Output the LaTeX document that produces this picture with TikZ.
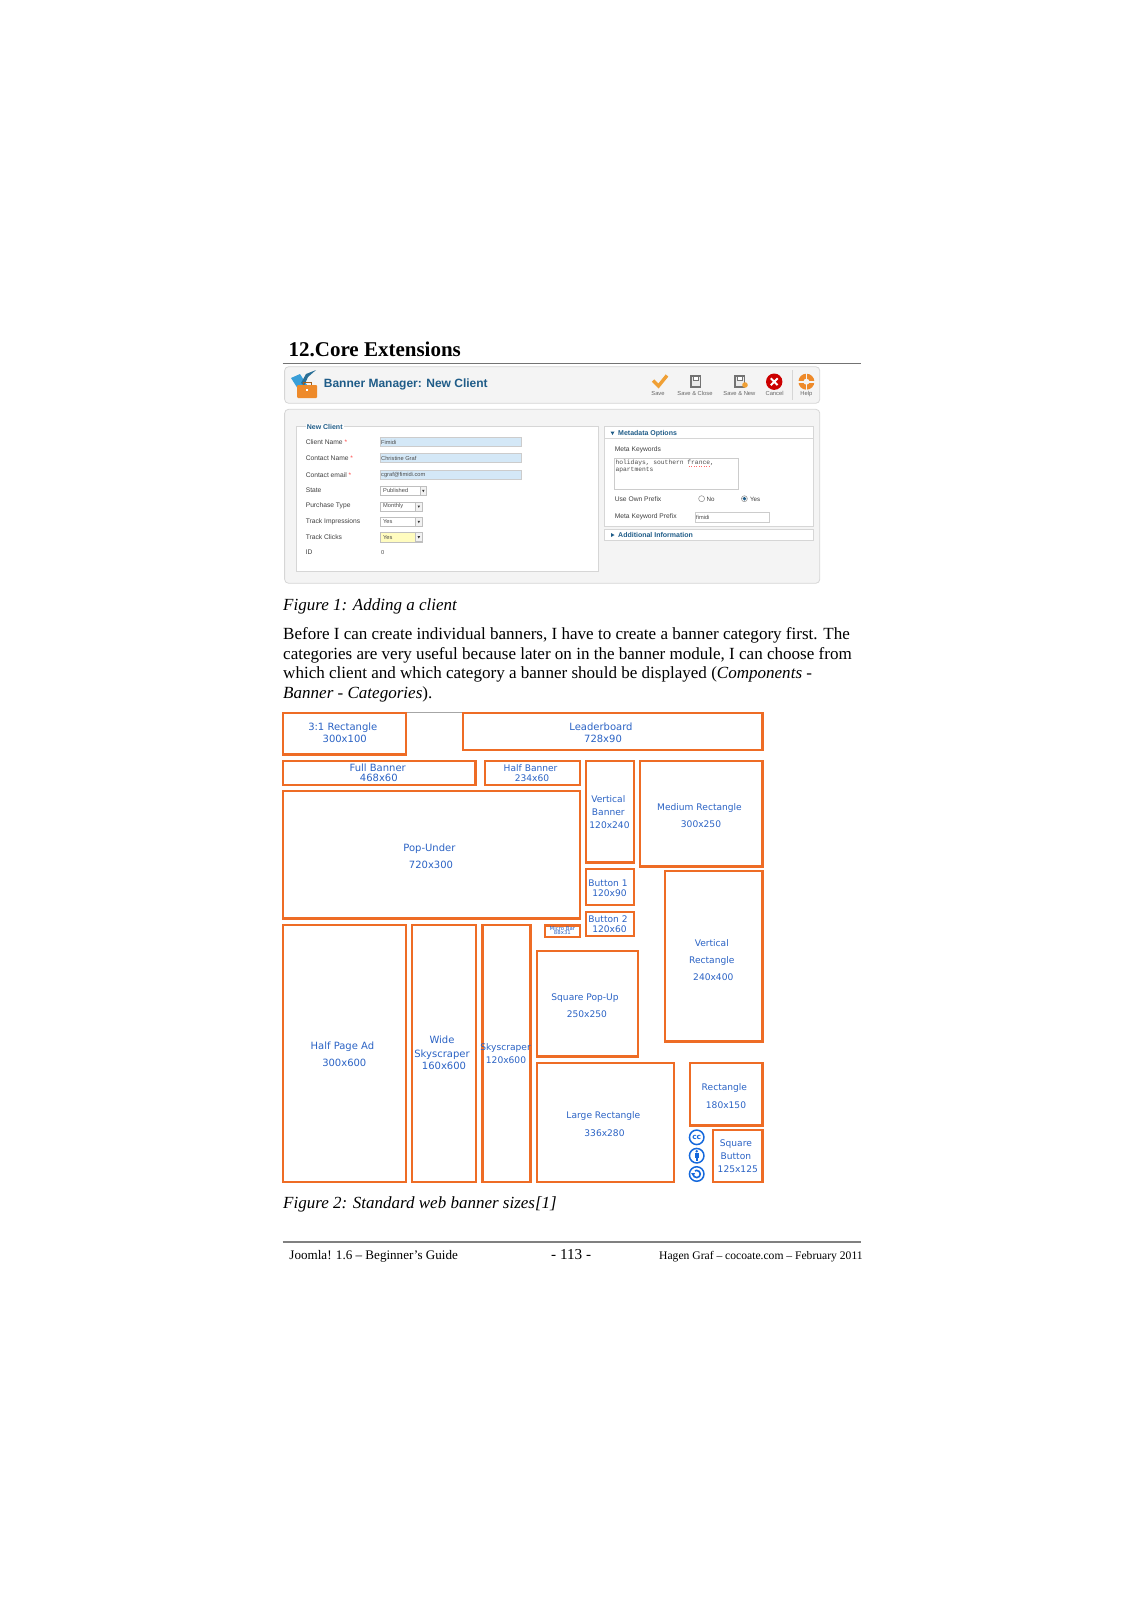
\documentclass[tikz,border=0pt]{standalone}
\usepackage{fontspec}
\setmainfont{Liberation Serif}
\newfontfamily\uifont{Liberation Sans}
\newfontfamily\adfont{DejaVu Sans}
\newfontfamily\codefont{Liberation Mono}
\definecolor{adorange}{HTML}{EE6C25}
\definecolor{adblue}{HTML}{2A62C4}
\definecolor{headblue}{HTML}{1F5C88}
\definecolor{ccblue}{HTML}{1468DC}
\definecolor{panelgray}{HTML}{F4F4F4}
\definecolor{edgegray}{HTML}{D6D6D6}
\definecolor{inputblue}{HTML}{D4E8F7}
\definecolor{iconorange}{HTML}{F0A035}
\definecolor{caseorange}{HTML}{EE8A2A}
\definecolor{caseblue}{HTML}{3A9FD8}
\tikzset{
    adbox/.style={draw=adorange, line width=2.4pt},
    adtext/.style={font=\adfont\fontsize{10}{12}\selectfont, text=adblue, inner sep=0pt, text height=7.5pt, text depth=0pt},
    adsmall/.style={adtext, font=\adfont\fontsize{9.1}{11}\selectfont},
    booktext/.style={anchor=base west, inner sep=0pt, align=left, font=\fontsize{17.05}{19.65}\selectfont},
    uitext/.style={anchor=west, inner sep=0pt, font=\uifont\fontsize{6.7}{8}\selectfont, text=black!75},
    fieldtext/.style={anchor=west, inner sep=0pt, font=\uifont\fontsize{5.7}{6}\selectfont, text=black!70},
    toolbartext/.style={inner sep=0pt, font=\uifont\fontsize{5.8}{7}\selectfont, text=black!60},
    panelhead/.style={anchor=west, inner sep=0pt, font=\uifont\bfseries\fontsize{7}{8}\selectfont, text=headblue},
    inputbox/.style={draw=black!20, fill=inputblue, line width=.6pt},
    selectbox/.style={draw=black!25, fill=white, line width=.6pt},
    panelbox/.style={draw=edgegray, fill=white, line width=.8pt},
    ccicon/.style={circle, draw=ccblue, line width=1.5pt, minimum size=14.5pt, inner sep=0pt, text=ccblue}
}
\begin{document}
\begin{tikzpicture}[x=1pt,y=-1pt]
    \useasboundingbox (0,0) rectangle (1131,1600);

    % page head
    \node[booktext, font=\bfseries\fontsize{21}{23}\selectfont] (title) at (288.4,356) {12.Core Extensions};
    \draw[black!55, line width=1.2pt] (282.7,363.5) -- (861.2,363.5);

    % screenshot
    \draw[edgegray, fill=panelgray, rounded corners=4pt, line width=.8pt] (284.6,366.7) rectangle (819.8,403.3);
    \draw[edgegray, fill=panelgray, rounded corners=4pt, line width=.8pt] (284.6,409.3) rectangle (819.8,583.3);
    \node[anchor=west, inner sep=0pt, font=\uifont\bfseries\fontsize{12}{14}\selectfont, text=headblue] (manager) at (323.7,384.8) {Banner Manager: New Client};

    % briefcase
    \fill[caseblue] (291,378) -- (300,374) -- (307,385) -- (298,389) -- cycle;
    \fill[caseblue!70!black] (301,383) -- (306,374) -- (316,370) -- (308,377) -- (304,386) -- cycle;
    \fill[caseorange, rounded corners=1pt] (297,385) rectangle (317,398);
    \draw[caseorange!70!black, line width=.8pt] (303,385) -- (303,382.5) -- (311,382.5) -- (311,385);
    \fill[white] (306.2,389) rectangle (307.8,391);

    % toolbar icons
    \draw[iconorange, line width=3.4pt] (653,380.5) -- (658.5,386) -- (667,375.5);
    \draw[black!55, fill=black!8, line width=1.2pt] (691,376) rectangle (700.5,387);
    \draw[black!55, fill=white, line width=.8pt] (693,376) rectangle (698.5,380);
    \draw[black!55, fill=black!8, line width=1.2pt] (735,376) rectangle (744.5,387);
    \draw[black!55, fill=white, line width=.8pt] (737,376) rectangle (742.5,380);
    \fill[iconorange] (745,385) circle (2.8);
    \fill[red!80!black] (774.2,381.7) circle (8.2);
    \draw[white, line width=2pt] (770.8,378.3) -- (777.6,385.1) (770.8,385.1) -- (777.6,378.3);
    \fill[caseorange] (806.4,381.7) circle (8);
    \fill[panelgray] (806.4,381.7) circle (3);
    \draw[panelgray, line width=1.6pt] (798,381.7) -- (815,381.7) (806.4,373) -- (806.4,390);
    \draw[edgegray, line width=.8pt] (791.9,370) -- (791.9,400);
    \node[toolbartext] (save) at (658,393.7) {Save};
    \node[toolbartext] (saveclose) at (695,393.7) {Save \& Close};
    \node[toolbartext] (savenew) at (739.4,393.7) {Save \& New};
    \node[toolbartext] (cancel) at (774.6,393.7) {Cancel};
    \node[toolbartext] (help) at (806.4,393.7) {Help};

    % client form
    \draw[panelbox] (296,426.7) rectangle (598.8,571.3);
    \node[panelhead, fill=panelgray!30!white, inner xsep=1pt] (newclient) at (305.6,426.7) {New Client};
    \node[uitext] (clientname) at (305.6,442.3) {Client Name \textcolor{red!70}{*}};
    \node[uitext] (contactname) at (305.6,458.3) {Contact Name \textcolor{red!70}{*}};
    \node[uitext] (contactemail) at (305.6,474.7) {Contact email \textcolor{red!70}{*}};
    \node[uitext] (state) at (305.6,490) {State};
    \node[uitext] (purchase) at (305.6,505.7) {Purchase Type};
    \node[uitext] (impressions) at (305.6,521.3) {Track Impressions};
    \node[uitext] (clicks) at (305.6,536.7) {Track Clicks};
    \node[uitext] (idlabel) at (305.6,552.3) {ID};
    \draw[inputbox] (380,437) rectangle (521.6,446.7);
    \draw[inputbox] (380,453) rectangle (521.6,462.7);
    \draw[inputbox] (380,470) rectangle (521.6,479.7);
    \draw[selectbox] (380,486.3) rectangle (426.7,495.3);
    \draw[selectbox] (380,502) rectangle (422.1,511);
    \draw[selectbox] (380,517.3) rectangle (422.1,526.7);
    \draw[selectbox, fill=yellow!25] (380,532.7) rectangle (422.1,542);
    \foreach \xa/\xb/\ya in {420/426.7/486.3, 415.5/422.1/502, 415.5/422.1/517.3, 415.5/422.1/532.7}{
        \draw[selectbox, fill=black!5] (\xa,\ya) rectangle (\xb,\ya+9);
        \fill[black!80] (\xa+2,\ya+3.5) -- (\xa+4.6,\ya+3.5) -- (\xa+3.3,\ya+5.8) -- cycle;
    }
    \node[fieldtext] (fimidi) at (381,442) {Fimidi};
    \node[fieldtext] (christine) at (381,458) {Christine Graf};
    \node[fieldtext] (email) at (381,474.8) {cgraf@fimidi.com};
    \node[fieldtext] (published) at (383,490.8) {Published};
    \node[fieldtext] (monthly) at (383,506.5) {Monthly};
    \node[fieldtext] (yesone) at (383,522) {Yes};
    \node[fieldtext] (yestwo) at (383,537.3) {Yes};
    \node[fieldtext] (idvalue) at (381,552.3) {0};

    % metadata panel
    \draw[panelbox] (604.6,426.7) rectangle (813.4,526.7);
    \draw[edgegray, line width=.8pt] (604.6,438.3) -- (813.4,438.3);
    \draw[panelbox] (604.6,529.3) rectangle (813.4,540.7);
    \fill[headblue] (610.5,431.5) -- (614.5,431.5) -- (612.5,435) -- cycle;
    \fill[headblue] (611,533) -- (611,537) -- (614.5,535) -- cycle;
    \node[panelhead] (metadata) at (618,433.5) {Metadata Options};
    \node[panelhead] (additional) at (618,535) {Additional Information};
    \node[uitext] (keywords) at (614.6,449.4) {Meta Keywords};
    \draw[draw=black!20, fill=white, line width=.6pt] (614.6,458.3) rectangle (738.4,489.3);
    \node[anchor=north west, inner sep=0pt, align=left, font=\codefont\fontsize{6.3}{7.2}\selectfont, text=black!70] (keywordtext) at (615.4,460) {holidays, southern france,\\apartments};
    \draw[red!60, dotted, line width=.5pt] (688.8,466) -- (711,466);
    \node[uitext] (ownprefix) at (614.6,499.3) {Use Own Prefix};
    \draw[black!45, fill=white, line width=.5pt] (701.6,498.7) circle (3);
    \node[uitext, font=\uifont\fontsize{6.2}{7}\selectfont] (nolabel) at (706.5,499.3) {No};
    \draw[black!45, fill=white, line width=.5pt] (744.4,498.7) circle (3);
    \fill[headblue] (744.4,498.7) circle (1.9);
    \node[uitext, font=\uifont\fontsize{6.2}{7}\selectfont] (yeslabel) at (749.8,499.3) {Yes};
    \node[uitext] (prefixlabel) at (614.6,517) {Meta Keyword Prefix};
    \draw[draw=black!20, fill=white, line width=.6pt] (694.8,512.3) rectangle (769.4,522.3);
    \node[fieldtext] (prefixvalue) at (696,517.3) {fimidi};

    % text block
    \node[booktext, font=\itshape\fontsize{17}{19}\selectfont] (figone) at (283,610) {Figure 1: Adding a client};
    \node[booktext] (para) at (283,698.3) {Before I can create individual banners, I have to create a banner category first. The\\
        categories are very useful because later on in the banner module, I can choose from\\
        which client and which category a banner should be displayed (\textit{Components -}\\
        \textit{Banner - Categories}).};

    % banner sizes
    \draw[black!35, line width=.8pt] (406.4,712.5) -- (462.7,712.5);
    \draw[adbox] (283,713) rectangle (406,754.3);
    \draw[adbox] (462.7,713) rectangle (762.4,750);
    \draw[adbox] (283,761) rectangle (475.4,784.7);
    \draw[adbox] (485,761) rectangle (580.2,784.7);
    \draw[adbox] (586.1,761) rectangle (634,862.3);
    \draw[adbox] (640.1,761) rectangle (762.4,866.3);
    \draw[adbox] (283,791) rectangle (580.2,918.3);
    \draw[adbox] (586.1,868.7) rectangle (634,905);
    \draw[adbox] (586.1,911.7) rectangle (634,935.7);
    \draw[adbox] (665,871) rectangle (762.4,1041.3);
    \draw[adbox] (545,925.5) rectangle (580.2,936.7);
    \draw[adbox] (283,925) rectangle (406,1181.7);
    \draw[adbox] (411.8,925) rectangle (476.2,1181.7);
    \draw[adbox] (482.3,925) rectangle (530.4,1181.7);
    \draw[adbox] (536.7,950.7) rectangle (638,1056.3);
    \draw[adbox] (536.7,1063) rectangle (673.8,1181.7);
    \draw[adbox] (690,1063) rectangle (762.4,1125.3);
    \draw[adbox] (713,1130) rectangle (762.4,1181.7);

    \node[adtext] (rectthree) at (342.8,726.5) {3:1 Rectangle};
    \node[adtext] (rectthreesize) at (344.7,739) {300x100};
    \node[adtext] (leader) at (601,726.5) {Leaderboard};
    \node[adtext] (leadersize) at (603,739) {728x90};
    \node[adtext] (full) at (377.7,767.5) {Full Banner};
    \node[adtext] (fullsize) at (378.8,778) {468x60};
    \node[adsmall] (half) at (530.6,767.5) {Half Banner};
    \node[adsmall] (halfsize) at (532,778) {234x60};
    \node[adsmall] (vertone) at (608.3,799) {Vertical};
    \node[adsmall] (verttwo) at (608.3,812) {Banner};
    \node[adsmall] (vertsize) at (609.5,824.8) {120x240};
    \node[adsmall] (medium) at (699.5,806.8) {Medium Rectangle};
    \node[adsmall] (mediumsize) at (701,823.8) {300x250};
    \node[adtext] (popunder) at (429.4,847.5) {Pop-Under};
    \node[adtext] (popundersize) at (431,864.5) {720x300};
    \node[adsmall] (btnone) at (608,882.3) {Button 1};
    \node[adsmall] (btnonesize) at (609.5,892.3) {120x90};
    \node[adsmall] (btntwo) at (608,919) {Button 2};
    \node[adsmall] (btntwosize) at (609.5,929) {120x60};
    \node[adtext, font=\adfont\fontsize{5.4}{6}\selectfont, text height=4pt] (micro) at (562.4,928.3) {Micro Bar};
    \node[adtext, font=\adfont\fontsize{5.4}{6}\selectfont, text height=4pt] (microsize) at (562.4,932.7) {88x31};
    \node[adsmall] (vrectone) at (711.8,942.8) {Vertical};
    \node[adsmall] (vrecttwo) at (711.8,959.8) {Rectangle};
    \node[adsmall] (vrectsize) at (713.3,977.2) {240x400};
    \node[adsmall] (squarepop) at (585,996.8) {Square Pop-Up};
    \node[adsmall] (squarepopsize) at (586.9,1013.8) {250x250};
    \node[adtext] (halfpage) at (342.4,1045.8) {Half Page Ad};
    \node[adtext] (halfpagesize) at (344.3,1063) {300x600};
    \node[adtext] (wideone) at (442,1040) {Wide};
    \node[adtext] (widetwo) at (442,1053.5) {Skyscraper};
    \node[adtext] (widesize) at (444,1066) {160x600};
    \node[adsmall] (sky) at (505.6,1047) {Skyscraper};
    \node[adsmall] (skysize) at (506,1059.8) {120x600};
    \node[adsmall] (large) at (603.4,1115.2) {Large Rectangle};
    \node[adsmall] (largesize) at (604.5,1132.4) {336x280};
    \node[adsmall] (rectangle) at (724.4,1087.2) {Rectangle};
    \node[adsmall] (rectanglesize) at (726,1104.4) {180x150};
    \node[adsmall] (sqone) at (735.9,1142.8) {Square};
    \node[adsmall] (sqtwo) at (735.9,1155.8) {Button};
    \node[adsmall] (sqsize) at (737.8,1168.8) {125x125};

    % licence badges
    \node[ccicon, font=\adfont\bfseries\fontsize{7.5}{8}\selectfont] (cc) at (696.7,1137.3) {cc};
    \node[ccicon] (by) at (696.7,1155.7) {};
    \fill[ccblue] (696.7,1151.2) circle (1.4);
    \fill[ccblue] (694.9,1153.3) rectangle (698.5,1157.5);
    \fill[ccblue] (695.7,1157.5) rectangle (697.7,1161);
    \node[ccicon] (sa) at (696.7,1174) {};
    \draw[ccblue, line width=1.6pt] (693.1,1174) arc[start angle=180, end angle=-120, radius=3.6];
    \fill[ccblue] (691,1173) -- (695.2,1173) -- (693.1,1176) -- cycle;

    % page foot
    \node[booktext, font=\itshape\fontsize{17}{19}\selectfont] (figtwo) at (283,1208) {Figure 2: Standard web banner sizes[1]};
    \draw[black!50, line width=1.2pt] (282.7,1242) -- (861.2,1242);
    \node[booktext, font=\fontsize{13.1}{15}\selectfont] (footleft) at (289.2,1259) {Joomla! 1.6 – Beginner's Guide};
    \node[booktext, font=\fontsize{15.2}{18}\selectfont] (footpage) at (551,1259) {- 113 -};
    \node[booktext, font=\fontsize{11.6}{15}\selectfont] (footright) at (659,1259) {Hagen Graf – cocoate.com – February 2011};
\end{tikzpicture}
\end{document}
